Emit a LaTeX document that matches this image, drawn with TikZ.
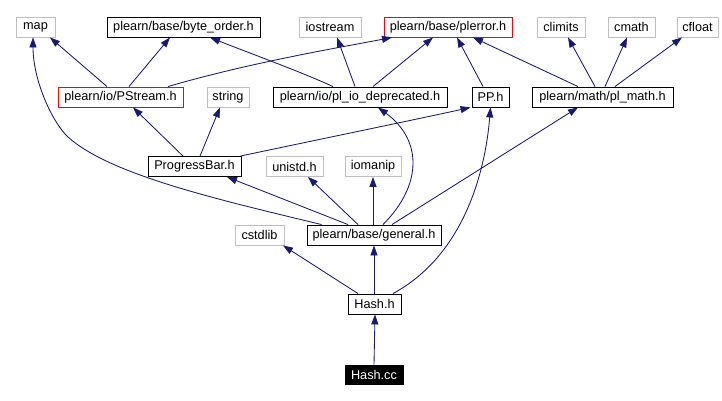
\documentclass[tikz,border=0pt]{standalone}
\usepackage{fontspec}
\setmainfont{Liberation Sans}
\usetikzlibrary{arrows.meta}
\definecolor{edgec}{HTML}{191970}
\definecolor{grayb}{HTML}{BFBFBF}
\tikzset{
  box/.style={draw=black, line width=0.9pt, inner sep=0pt, minimum height=20pt, font=\fontsize{12.7pt}{14pt}\selectfont, text=black},
  graybox/.style={box, draw=grayb},
  redbox/.style={box, draw=red},
  blackbox/.style={box, fill=black, draw=black, text=white},
  dep/.style={draw=edgec, line width=0.85pt, -{Triangle[length=10pt,width=7pt]}, fill=none}
}
\begin{document}
\begin{tikzpicture}[x=1pt,y=-1pt]
\useasboundingbox (0,0) rectangle (722,401);
% row 1
\node[graybox, minimum width=39pt] (map) at (35.5,27) {map};
\node[box, minimum width=153pt] (byte) at (183.5,27) {plearn/base/byte\_order.h};
\node[graybox, minimum width=62pt] (iostream) at (330,27) {iostream};
\node[redbox, minimum width=128pt] (plerror) at (448,27) {plearn/base/plerror.h};
\node[graybox, minimum width=48pt] (climits) at (561,27) {climits};
\node[graybox, minimum width=47pt] (cmath) at (631.5,27) {cmath};
\node[graybox, minimum width=41pt] (cfloat) at (697.5,27) {cfloat};
% row 2
\node[redbox, minimum width=125pt] (pstream) at (120.5,97) {plearn/io/PStream.h};
\node[graybox, minimum width=42pt] (string) at (228,97) {string};
\node[box, minimum width=174pt] (pliodep) at (360,97) {plearn/io/pl\_io\_deprecated.h};
\node[box, minimum width=37pt] (pp) at (490.5,97) {PP.h};
\node[box, minimum width=141pt] (plmath) at (602.5,97) {plearn/math/pl\_math.h};
% row 3
\node[box, minimum width=93pt] (pb) at (194.5,166.5) {ProgressBar.h};
\node[graybox, minimum width=57pt] (unistd) at (294.5,166.5) {unistd.h};
\node[graybox, minimum width=56pt] (iomanip) at (373,166.5) {iomanip};
% row 4
\node[graybox, minimum width=49pt] (cstdlib) at (259.5,235) {cstdlib};
\node[box, minimum width=134pt] (gen) at (374,235) {plearn/base/general.h};
% row 5, 6
\node[box, minimum width=53pt] (hashh) at (374.5,304) {Hash.h};
\node[blackbox, minimum width=58pt, minimum height=19pt] (hashcc) at (374,374.5) {Hash.cc};
% edges
\draw[dep] ([xshift=-13.5pt]pstream.north) -- ([xshift=14.5pt]map.south);
\draw[dep] ([xshift=8.5pt]pstream.north) -- ([xshift=-13.5pt]byte.south);
\draw[dep] ([xshift=47.5pt]pstream.north) .. controls +(82,-24) and +(-52,10) .. ([xshift=-56pt]plerror.south);
\draw[dep] ([xshift=-27pt]pliodep.north) .. controls +(-35,-16) and +(35,14) .. ([xshift=26.5pt]byte.south);
\draw[dep] ([xshift=-5pt]pliodep.north) -- ([xshift=7pt]iostream.south);
\draw[dep] ([xshift=13pt]pliodep.north) -- ([xshift=-15pt]plerror.south);
\draw[dep] ([xshift=-7.5pt]pp.north) -- ([xshift=9pt]plerror.south);
\draw[dep] ([xshift=-24.5pt]plmath.north) -- ([xshift=25pt]plerror.south);
\draw[dep] ([xshift=-7.5pt]plmath.north) -- ([xshift=7pt]climits.south);
\draw[dep] ([xshift=2.5pt]plmath.north) -- ([xshift=-4.5pt]cmath.south);
\draw[dep] ([xshift=12.5pt]plmath.north) -- ([xshift=-15.5pt]cfloat.south);
\draw[dep] ([xshift=-11.5pt]pb.north) -- ([xshift=12.5pt]pstream.south);
\draw[dep] ([xshift=5.5pt]pb.north) -- ([xshift=-8pt]string.south);
\draw[dep] ([xshift=-1pt]pb.north east) .. controls +(90,-19) and +(-50,11) .. ([xshift=-1pt]pp.south west);
\draw[dep] ([xshift=15pt]gen.north west) .. controls (220,200) and (110,175) .. (68,137) .. controls (52,122) and (33,80) .. ([xshift=-2.5pt]map.south);
\draw[dep] ([xshift=-26pt]gen.north) -- ([xshift=32.5pt]pb.south);
\draw[dep] ([xshift=-16pt]gen.north) -- ([xshift=13.5pt]unistd.south);
\draw[dep] ([xshift=-1pt]gen.north) -- (iomanip.south);
\draw[dep] ([xshift=9pt]gen.north) .. controls +(40,-40) and +(44,32) .. ([xshift=18pt]pliodep.south);
\draw[dep] ([xshift=18pt]gen.north) -- ([xshift=-24.5pt]plmath.south);
\draw[dep] ([xshift=-16.5pt]hashh.north) -- ([xshift=23.5pt]cstdlib.south);
\draw[dep] ([xshift=-0.5pt]hashh.north) -- (gen.south);
\draw[dep] ([xshift=18.5pt]hashh.north) .. controls +(72,-39) and +(-5,62) .. (pp.south);
\draw[dep] (hashcc.north) -- ([xshift=0.5pt]hashh.south);
\end{tikzpicture}
\end{document}
